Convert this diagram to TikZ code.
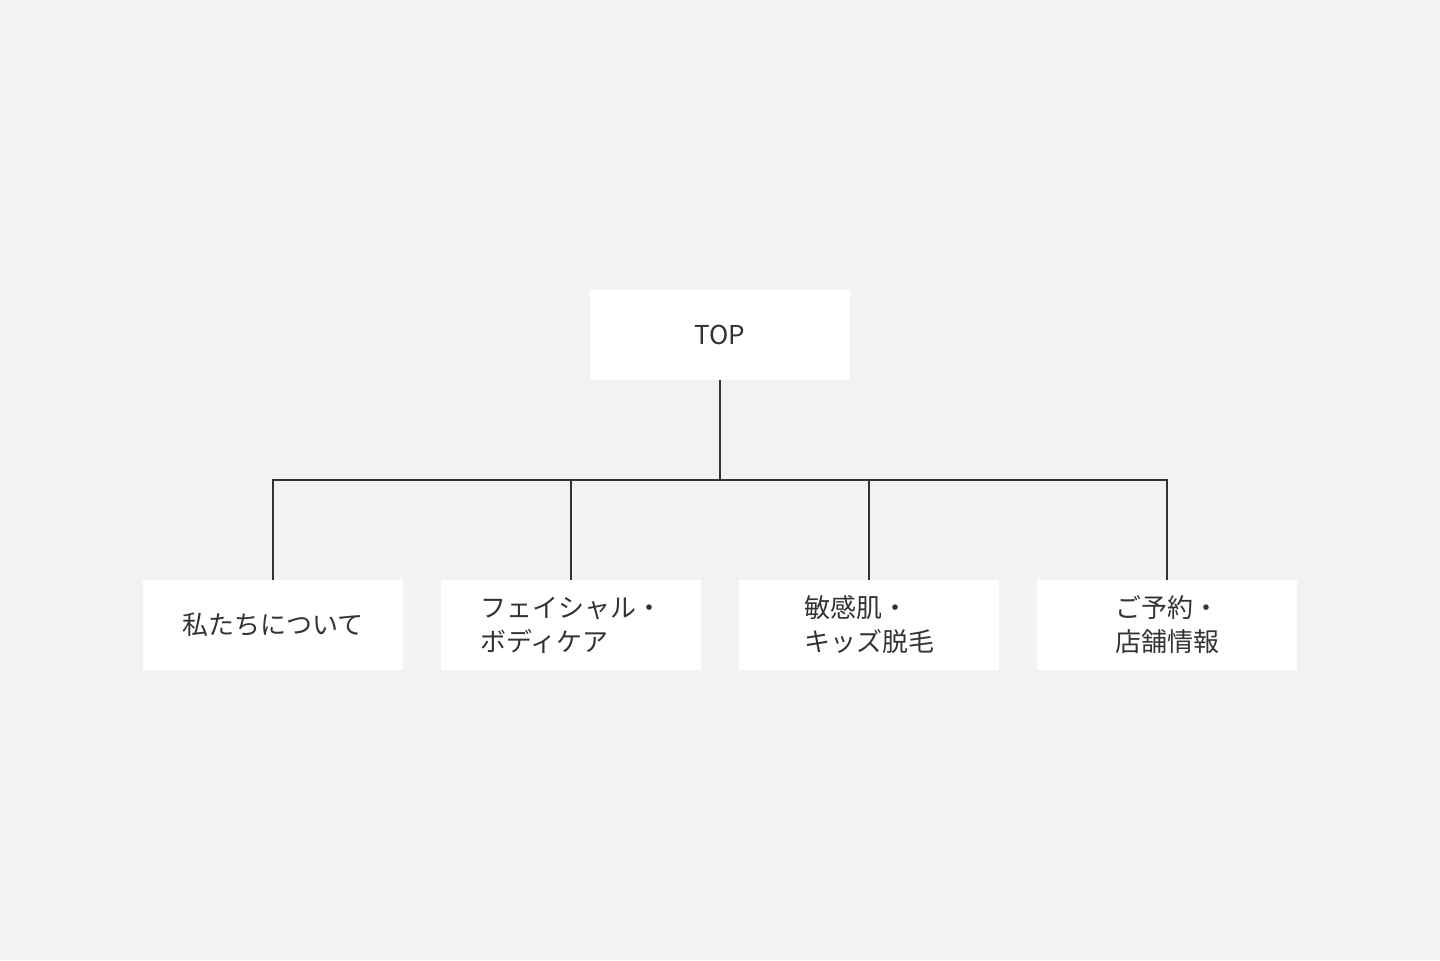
\documentclass[tikz,border=0pt]{standalone}
\usepackage{fontspec}
\setmainfont{Noto Sans CJK JP}
\definecolor{bg}{HTML}{F2F2F2}
\definecolor{ink}{HTML}{333333}

\begin{document}
\begin{tikzpicture}[x=0.5pt, y=-0.5pt,
  page/.style = {fill = white, minimum width = 130pt, minimum height = 45pt,
                 inner sep = 0pt, text = ink, font = \fontsize{13pt}{17pt}\selectfont,
                 align = left},
  link/.style = {draw = ink, line width = 1pt}]
  \fill[bg] (0, 0) rectangle (1440, 960);

  \node[page] (top) at (720, 335) {TOP};

  \node[page] (about)  at (273, 625) {私たちについて};
  \node[page] (facial) at (571, 625) {フェイシャル・\\ボディケア};
  \node[page] (kids)   at (869, 625) {敏感肌・\\キッズ脱毛};
  \node[page] (shop)   at (1167, 625) {ご予約・\\店舗情報};

  \coordinate (hub) at (720, 480);

  \draw[link] (top.south) -- (hub);
  \draw[link] (about.north) |- (hub);
  \draw[link] (facial.north) |- (hub);
  \draw[link] (kids.north) |- (hub);
  \draw[link] (shop.north) |- (hub);
\end{tikzpicture}
\end{document}
